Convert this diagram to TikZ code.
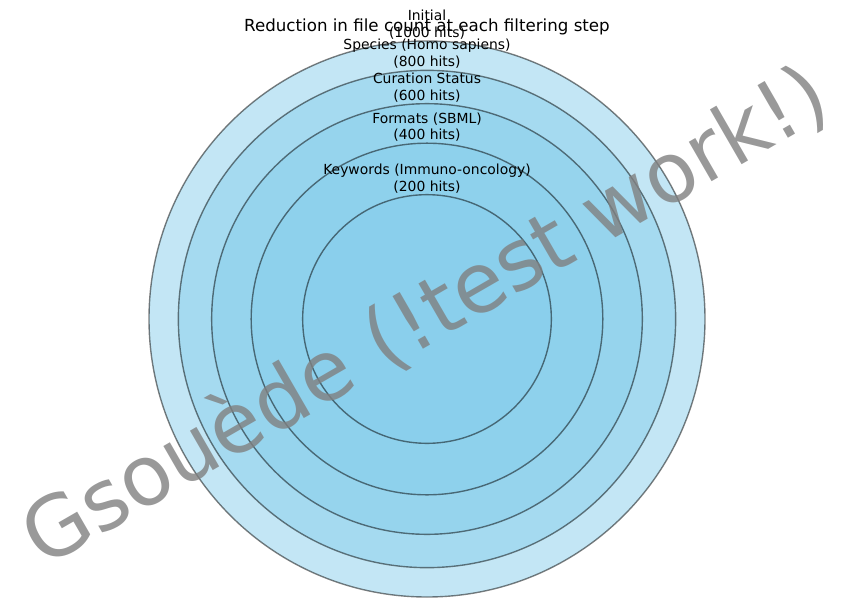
\documentclass[tikz,border=0pt]{standalone}
\usepackage{fontspec}
\setmainfont{DejaVu Sans}
\definecolor{skyblue}{HTML}{87CEEB}
\begin{document}
\begin{tikzpicture}[x=0.72pt,y=-0.72pt,
  ring/.style={fill=skyblue,fill opacity=0.5,draw=black,draw opacity=0.5,line width=1pt},
  lbl/.style={align=center,inner sep=0pt,font=\fontsize{10pt}{12pt}\selectfont,text=black},
  ttl/.style={inner sep=0pt,font=\fontsize{12pt}{14pt}\selectfont,text=black},
  wm/.style={inner sep=0pt,font=\fontsize{60pt}{72pt}\selectfont,text=gray,text opacity=0.8,rotate=30}]
\useasboundingbox (0,0) rectangle (853,607);
\coordinate (c) at (427,319);
\draw[ring] (c) circle[radius=278];
\draw[ring] (c) circle[radius=248.65];
\draw[ring] (c) circle[radius=215.34];
\draw[ring] (c) circle[radius=175.82];
\draw[ring] (c) circle[radius=124.33];
\node[lbl] (l1) at (427,24.5) {Initial\\(1000 hits)};
\node[lbl] (l2) at (427,53.5) {Species (Homo sapiens)\\(800 hits)};
\node[lbl] (l3) at (427,87.5) {Curation Status\\(600 hits)};
\node[lbl] (l4) at (427,127.3) {Formats (SBML)\\(400 hits)};
\node[lbl] (l5) at (427,178.6) {Keywords (Immuno-oncology)\\(200 hits)};
\node[ttl] (title) at (427,27) {Reduction in file count at each filtering step};
\node[wm] (wmark) at (425,316) {Gsouède (!test work!)};
\end{tikzpicture}
\end{document}
